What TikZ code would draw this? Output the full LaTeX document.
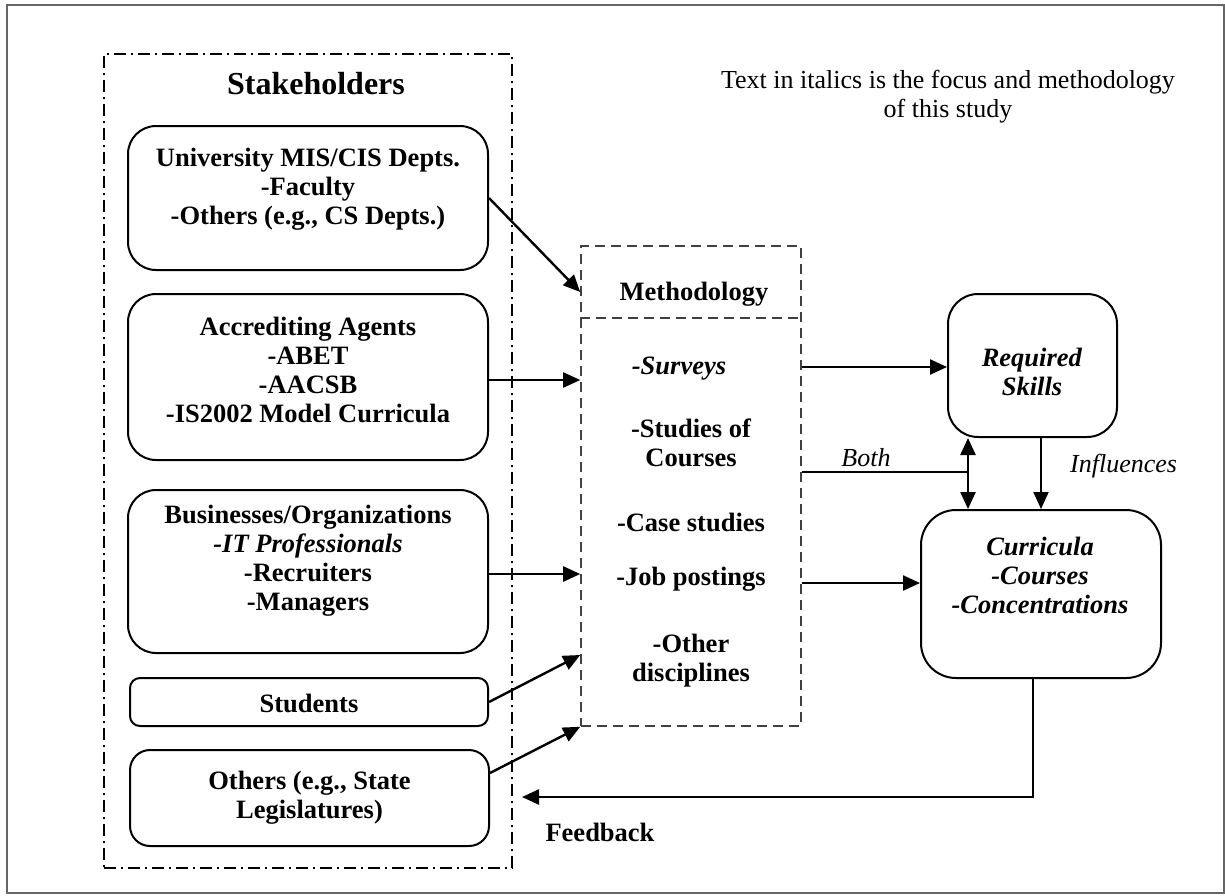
\documentclass[tikz,border=0pt]{standalone}
\usepackage{fontspec}
\setmainfont{Liberation Serif}
\usetikzlibrary{arrows.meta,calc}
\begin{document}
\begin{tikzpicture}[x=1pt,y=-1pt,
  rbox/.style={draw, line width=2pt, inner sep=0pt},
  lbl/.style={font=\fontsize{26.5}{29}\selectfont\bfseries, align=center, inner sep=0pt},
  plain/.style={font=\fontsize{26}{29}\selectfont, align=center, inner sep=0pt},
  tipA/.tip={Triangle[length=17pt,width=15pt]},
  conn/.style={line width=2.4pt, -tipA},
  thinconn/.style={line width=2pt, -tipA},
  group/.style={draw, line width=1.8pt, dash pattern=on 12pt off 5pt on 2pt off 5pt, inner sep=0pt},
  methbox/.style={draw=black!75, line width=1.6pt, dash pattern=on 10pt off 6pt, inner sep=0pt}]
\useasboundingbox (0,0) rectangle (1225,895);
\draw[black!60, line width=1.5pt] (7,5) rectangle (1224,893);

% stakeholders group
\node[group, minimum width=408pt, minimum height=814pt] (grp) at (308,461) {};
\node[font=\fontsize{32}{36}\selectfont\bfseries, inner sep=0pt] (grpT) at (316,84) {Stakeholders};

\node[rbox, rounded corners=28pt, minimum width=360pt, minimum height=144pt] (univ) at (308,198) {};
\node[lbl] (univT) at (308,189) {University MIS/CIS Depts.\\-Faculty\\-Others (e.g., CS Depts.)};

\node[rbox, rounded corners=28pt, minimum width=360pt, minimum height=166pt] (accr) at (308,377) {};
\node[lbl] (accrT) at (308,370) {Accrediting Agents\\-ABET\\-AACSB\\-IS2002 Model Curricula};

\node[rbox, rounded corners=28pt, minimum width=360pt, minimum height=163pt] (bus) at (308,571.5) {};
\node[lbl] (busT) at (308,561) {Businesses/Organizations\\\textit{-IT Professionals}\\-Recruiters\\-Managers};

\node[rbox, rounded corners=10pt, minimum width=358pt, minimum height=48pt] (stud) at (309,702) {};
\node[lbl] (studT) at (309,703) {Students};

\node[rbox, rounded corners=20pt, minimum width=359pt, minimum height=96pt] (oth) at (309.5,798) {};
\node[lbl] (othT) at (309.5,798) {Others (e.g., State\\Legislatures)};

% methodology
\node[methbox, minimum width=220pt, minimum height=480pt] (meth) at (691,486) {};
\draw[methbox] (meth.west |- 0,318) -- (meth.east |- 0,318);
\node[lbl] (methT) at (694,294) {Methodology};
\node[lbl] (m1) at (679,369) {\textit{-Surveys}};
\node[lbl] (m2) at (691,443) {-Studies of\\Courses};
\node[lbl] (m3) at (691,522) {-Case studies};
\node[lbl] (m4) at (691,579) {-Job postings};
\node[lbl] (m5) at (691,661) {-Other\\disciplines};

% right boxes
\node[rbox, rounded corners=30pt, minimum width=169pt, minimum height=143pt] (req) at (1032.5,365.5) {};
\node[lbl] (reqT) at (1032,372) {\textit{Required}\\\textit{Skills}};

\node[rbox, rounded corners=35pt, minimum width=240pt, minimum height=168pt] (curr) at (1041,594) {};
\node[lbl] (currT) at (1040,575) {\textit{Curricula}\\\textit{-Courses}\\\textit{-Concentrations}};

% note
\node[plain] (note) at (948,97) {Text in italics is the focus and methodology\\of this study};

% connectors
\draw[conn] (univ.east) -- (meth.west |- 0,292);
\draw[conn] (accr.east |- 0,380) -- (meth.west |- 0,380);
\draw[conn] (bus.east |- 0,574) -- (meth.west |- 0,574);
\draw[conn] (stud.east) -- (meth.west |- 0,655);
\draw[conn] (oth.east |- 0,773) -- (meth.south west);
\draw[conn] (meth.east |- 0,367) -- (req.west |- 0,367);
\draw[conn] (meth.east |- 0,583) -- (curr.west |- 0,583);

\coordinate (bj) at (968,472);
\draw[line width=2pt] (meth.east |- bj) -- (bj);
\draw[line width=2.4pt, tipA-tipA] (req.south -| bj) -- (curr.north -| bj);
\node[plain, font=\fontsize{26}{29}\selectfont\itshape] (bothT) at (866,458) {Both};

\coordinate (inf) at (1041,470);
\draw[thinconn] (req.south -| inf) -- (curr.north -| inf);
\node[plain, font=\fontsize{26}{29}\selectfont\itshape, anchor=west] (infT) at (1070,466) {Influences};

\coordinate (fb1) at (1033,797);
\coordinate (fb2) at (522,797);
\draw[conn] (curr.south -| fb1) -- (fb1) -- (fb2);
\node[lbl] (fbT) at (600,832) {Feedback};
\end{tikzpicture}
\end{document}
